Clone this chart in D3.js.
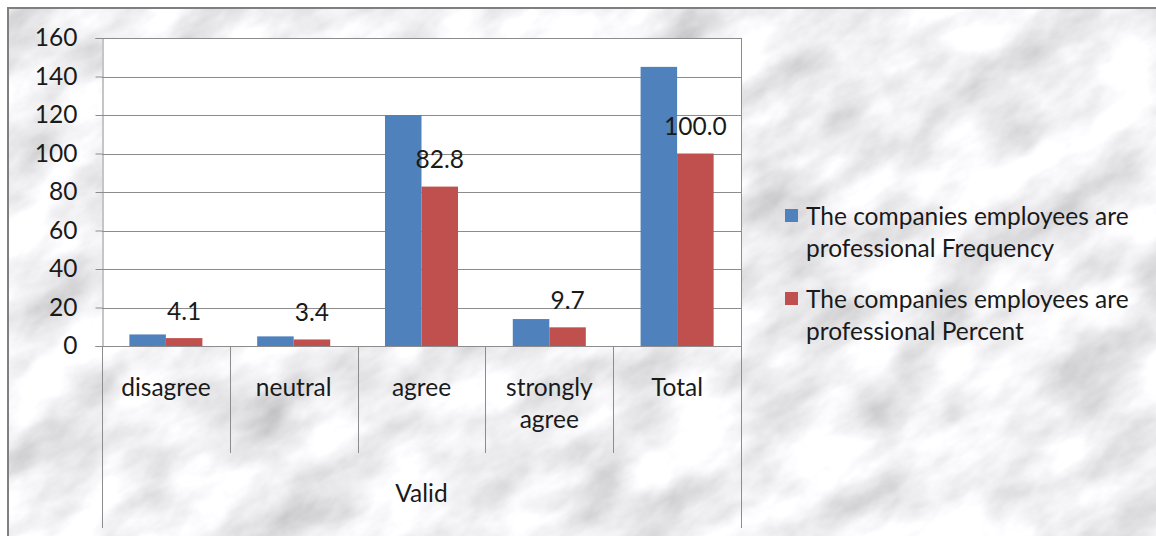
<!DOCTYPE html>
<html>
<head>
<meta charset="utf-8">
<script src="https://cdn.jsdelivr.net/npm/d3@7"></script>
<style>
  html, body { margin: 0; padding: 0; background: #fff; }
  svg { display: block; font-family: Lato, "Open Sans", sans-serif; }
</style>
</head>
<body>
<svg id="chart" width="1156" height="536"></svg>
<script>
// Survey responses: "The companies employees are professional"
const categories = ["disagree", "neutral", "agree", "strongly agree", "Total"];
const frequency = [6, 5, 120, 14, 145];
const percent = [4.1, 3.4, 82.8, 9.7, 100.0];
const seriesNames = [
  "The companies employees are professional Frequency",
  "The companies employees are professional Percent"
];
const seriesColors = ["#4F81BD", "#C0504D"];
const yTicks = [0, 20, 40, 60, 80, 100, 120, 140, 160];
const groupLabel = "Valid";

const svg = d3.select("#chart");
const W = 1156, H = 536;
const plot = { left: 102, right: 741, top: 38, bottom: 346 };
const FS = 24.5;
const INK = "#1a1a1a";

// Marble-like backdrop
const defs = svg.append("defs");
const f = defs.append("filter").attr("id", "marble")
  .attr("x", 0).attr("y", 0).attr("width", "100%").attr("height", "100%");
f.append("feTurbulence").attr("type", "fractalNoise")
  .attr("baseFrequency", "0.011 0.02").attr("numOctaves", 5).attr("seed", 11).attr("result", "n");
f.append("feColorMatrix").attr("in", "n").attr("type", "matrix")
  .attr("values", "0.75 0 0 0 0.5  0.75 0 0 0 0.5  0.75 0 0 0 0.52  0 0 0 0 1");

svg.append("rect").attr("x", 8).attr("y", 8).attr("width", W).attr("height", H)
  .attr("fill", "#e4e4e4");
svg.append("g").attr("transform", "rotate(-32 580 270)")
  .append("rect").attr("x", -400).attr("y", -500).attr("width", 2000).attr("height", 1600)
  .attr("filter", "url(#marble)");
// white margin outside the frame
svg.append("rect").attr("x", 0).attr("y", 0).attr("width", W).attr("height", 7).attr("fill", "#fff");
svg.append("rect").attr("x", 0).attr("y", 0).attr("width", 7).attr("height", H).attr("fill", "#fff");
// chart frame (top and left edges)
svg.append("path").attr("d", `M8,${H} V8 H${W}`).attr("fill", "none")
  .attr("stroke", "#7f7f7f").attr("stroke-width", 2);

// Scales
const x = d3.scaleBand().domain(categories).range([plot.left, plot.right]).paddingInner(0).paddingOuter(0);
const x1 = d3.scaleBand().domain([0, 1]).range([0, x.bandwidth()]).paddingInner(0).paddingOuter(0.75);
const y = d3.scaleLinear().domain([0, 160]).range([plot.bottom, plot.top]);

// Plot area
svg.append("rect").attr("x", plot.left).attr("y", plot.top)
  .attr("width", plot.right - plot.left).attr("height", plot.bottom - plot.top)
  .attr("fill", "#fff");

// Gridlines
svg.append("g").selectAll("line").data(yTicks).join("line")
  .attr("x1", plot.left).attr("x2", plot.right)
  .attr("y1", d => Math.round(y(d)) + 0.5).attr("y2", d => Math.round(y(d)) + 0.5)
  .attr("stroke", "#8c8c8c").attr("stroke-width", 1);
svg.append("line").attr("x1", plot.right + 0.5).attr("x2", plot.right + 0.5)
  .attr("y1", plot.top).attr("y2", plot.bottom).attr("stroke", "#8c8c8c");

// Y axis
const yAxis = d3.axisLeft(y).tickValues(yTicks).tickSize(7).tickPadding(18).tickFormat(d3.format("d"));
const gy = svg.append("g").attr("transform", `translate(${plot.left + 0.5},0)`).call(yAxis);
gy.select(".domain").attr("stroke", "#8c8c8c");
gy.selectAll(".tick line").attr("stroke", "#8c8c8c");
gy.selectAll(".tick text").attr("font-size", FS).attr("fill", INK)
  .attr("font-family", "Lato, sans-serif");

// Bars
const data = categories.map((c, i) => ({ c, vals: [frequency[i], percent[i]] }));
const groups = svg.append("g").selectAll("g").data(data).join("g")
  .attr("transform", d => `translate(${x(d.c)},0)`);
groups.selectAll("rect").data(d => d.vals.map((v, k) => ({ v, k }))).join("rect")
  .attr("x", d => x1(d.k)).attr("width", x1.bandwidth())
  .attr("y", d => y(d.v)).attr("height", d => y(0) - y(d.v))
  .attr("fill", d => seriesColors[d.k]);

// Value labels for the percent series
groups.append("text")
  .attr("x", (d) => x1(1) + x1.bandwidth() / 2)
  .attr("y", d => y(d.vals[1]) - 18.5)
  .attr("text-anchor", "middle").attr("font-size", FS).attr("fill", INK)
  .text(d => d3.format(".1f")(d.vals[1]));

// X axis baseline
svg.append("line").attr("x1", plot.left).attr("x2", plot.right)
  .attr("y1", plot.bottom + 0.5).attr("y2", plot.bottom + 0.5).attr("stroke", "#8c8c8c");

// Category separators
const edges = categories.map(c => x(c)).concat([x(categories[categories.length - 1]) + x.bandwidth()]);
svg.append("g").selectAll("line").data(edges).join("line")
  .attr("x1", d => Math.round(d) + 0.5).attr("x2", d => Math.round(d) + 0.5)
  .attr("y1", plot.bottom)
  .attr("y2", (d, i) => (i === 0 || i === edges.length - 1) ? 528 : 453)
  .attr("stroke", "#8c8c8c");

// Category labels (wrapped)
const catText = svg.append("g").selectAll("text").data(categories).join("text")
  .attr("text-anchor", "middle").attr("font-size", FS).attr("fill", INK)
  .attr("x", d => x(d) + x.bandwidth() / 2).attr("y", 396);
catText.each(function(d) {
  const words = d === "strongly agree" ? ["strongly", "agree"] : [d];
  d3.select(this).selectAll("tspan").data(words).join("tspan")
    .attr("x", x(d) + x.bandwidth() / 2)
    .attr("dy", (w, i) => i === 0 ? 0 : 32)
    .text(w => w);
});

// Group label
svg.append("text").attr("x", (plot.left + plot.right) / 2).attr("y", 502)
  .attr("text-anchor", "middle").attr("font-size", FS).attr("fill", INK)
  .text(groupLabel);

// Legend
const legendLines = [
  ["The companies employees are", "professional Frequency"],
  ["The companies employees are", "professional Percent"]
];
const legend = svg.append("g");
const legendTop = [209, 292];
legendLines.forEach((lines, i) => {
  legend.append("rect").attr("x", 785).attr("y", legendTop[i]).attr("width", 13).attr("height", 13)
    .attr("fill", seriesColors[i]);
  const t = legend.append("text").attr("x", 806).attr("y", legendTop[i] + 16)
    .attr("font-size", FS).attr("fill", INK);
  lines.forEach((ln, j) => {
    t.append("tspan").attr("x", 806).attr("dy", j === 0 ? 0 : 32).text(ln);
  });
});
</script>
</body>
</html>
